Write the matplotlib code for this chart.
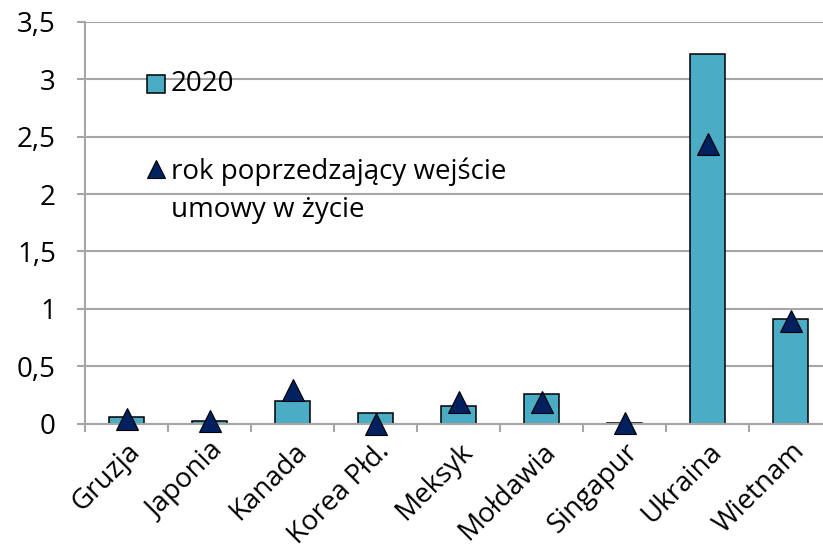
import matplotlib
matplotlib.use("Agg")
import matplotlib.pyplot as plt
from matplotlib.ticker import FuncFormatter, FixedLocator
from matplotlib.patches import Rectangle
from matplotlib.lines import Line2D

categories = ["Gruzja", "Japonia", "Kanada", "Korea Płd.", "Meksyk", "Mołdawia", "Singapur", "Ukraina", "Wietnam"]
values_2020 = [0.06, 0.025, 0.20, 0.09, 0.155, 0.26, 0.005, 3.22, 0.91]
values_prev = [0.04, 0.02, 0.29, 0.00, 0.19, 0.19, 0.005, 2.44, 0.89]
series_names = ["2020", "rok poprzedzający wejście\numowy w życie"]

plt.rcParams['font.family'] = ['Open Sans', 'DejaVu Sans']
FS = 20

fig = plt.figure(figsize=(8.23, 5.57), dpi=100)
ax = fig.add_axes([85/823, 133.5/557, 747/823, 401.5/557])

bar_color = "#4bacc6"
tri_color = "#002060"
grid_color = "#a6a6a6"

x = list(range(len(categories)))
ax.bar(x, values_2020, width=0.41, color=bar_color, edgecolor="black", linewidth=1.1, zorder=2)
ax.plot(x, values_prev, linestyle="none", marker="^", markersize=16.5, markerfacecolor=tri_color,
        markeredgecolor="black", markeredgewidth=0.8, zorder=3, clip_on=False)

ax.set_xlim(-0.5, len(categories) - 0.5)
ax.set_ylim(0, 3.5)
ax.set_yticks([0, 0.5, 1, 1.5, 2, 2.5, 3, 3.5])
ax.yaxis.set_major_formatter(FuncFormatter(lambda v, p: ("%g" % v).replace(".", ",")))
ax.yaxis.grid(True, color=grid_color, linewidth=1.5, zorder=0)
ax.set_axisbelow(True)

ax.set_xticks(x)
ax.set_xticklabels(categories, rotation=45, ha="right", va="top", rotation_mode="anchor", fontsize=FS)
ax.tick_params(axis="x", which="major", length=0, pad=10)
ax.xaxis.set_minor_locator(FixedLocator([i - 0.5 for i in range(len(categories) + 1)]))
ax.tick_params(axis="x", which="minor", length=6, color=grid_color, width=1.5)
ax.tick_params(axis="y", length=6, color=grid_color, width=1.5, labelsize=FS, pad=15)

for s in ["top", "right"]:
    ax.spines[s].set_visible(False)
for s in ["left", "bottom"]:
    ax.spines[s].set_color(grid_color)
    ax.spines[s].set_linewidth(1.5)

# legend drawn manually
W, H = 823, 557
def fx(px): return px / W
def fy(py): return 1 - py / H
fig.patches.append(Rectangle((fx(147), fy(93)), 18/W, 18/H, transform=fig.transFigure,
                             facecolor=bar_color, edgecolor="black", linewidth=1.1))
fig.text(fx(171), fy(84), series_names[0], fontsize=FS, va="center", ha="left")
fig.lines.append(Line2D([fx(156)], [fy(169)], transform=fig.transFigure, marker="^", markersize=13,
                        markerfacecolor=tri_color, markeredgecolor="black", markeredgewidth=0.8))
fig.text(fx(171), fy(191), series_names[1], fontsize=FS, va="center", ha="left", linespacing=1.5)

fig.savefig("out.png", dpi=100)
